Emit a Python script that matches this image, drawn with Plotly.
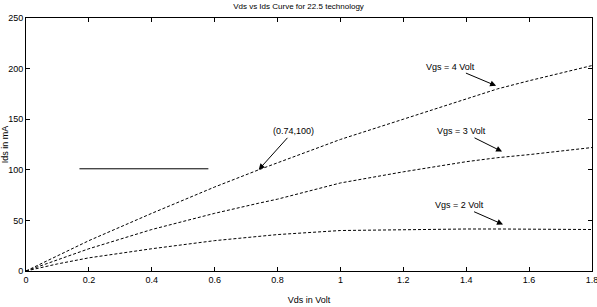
import plotly.graph_objects as go

vds = [0, 0.1, 0.2, 0.4, 0.6, 0.74, 0.8, 1.0, 1.2, 1.4, 1.5, 1.6, 1.8]
ids_vgs4 = [0, 15, 30, 57, 83, 100, 107, 130, 150, 170, 180, 188, 203]
ids_vgs3 = [0, 11, 22, 41, 57, 67, 71, 87, 98, 108, 112, 115, 122]
ids_vgs2 = [0, 7, 13, 22, 30, 34, 36, 40, 41, 41.5, 41.5, 41.5, 41]
marker_x = [0.17, 0.58]
marker_y = [101, 101]

x_ticks = [0, 0.2, 0.4, 0.6, 0.8, 1, 1.2, 1.4, 1.6, 1.8]
x_tick_text = ["0", "0.2", "0.4", "0.6", "0.8", "1", "1.2", "1.4", "1.6", "1.8"]
y_ticks = [0, 50, 100, 150, 200, 250]

font = dict(family="Liberation Sans", size=9, color="black")
line_style = dict(color="black", width=1, dash="3px,2px")

fig = go.Figure()
for ys in (ids_vgs4, ids_vgs3, ids_vgs2):
    fig.add_trace(go.Scatter(x=vds, y=ys, mode="lines", line=line_style,
                             showlegend=False, hoverinfo="skip"))
fig.add_trace(go.Scatter(x=marker_x, y=marker_y, mode="lines",
                         line=dict(color="black", width=1), showlegend=False,
                         hoverinfo="skip"))

annots = [
    ("(0.74,100)", 0.74, 100, 0.85, 138),
    ("Vgs = 4 Volt", 1.495, 183, 1.35, 202),
    ("Vgs = 3 Volt", 1.514, 118, 1.385, 138),
    ("Vgs = 2 Volt", 1.517, 46, 1.378, 65),
]
for txt, x, y, ax, ay in annots:
    fig.add_annotation(text=txt, x=x, y=y, ax=ax, ay=ay, axref="x", ayref="y",
                       xref="x", yref="y", showarrow=True, arrowhead=2,
                       arrowsize=1.2, arrowwidth=1, arrowcolor="black",
                       font=font)

fig.update_layout(
    width=597, height=307,
    margin=dict(l=26, r=5, t=18, b=36, autoexpand=False),
    paper_bgcolor="white", plot_bgcolor="white",
    font=font,
    title=dict(text="Vds vs Ids Curve for 22.5 technology", x=0.5, xanchor="center",
               y=0.99, yanchor="top", font=dict(family="Liberation Sans", size=8)),
    xaxis=dict(range=[0, 1.80001], tickvals=x_ticks, ticktext=x_tick_text,
               ticks="inside", ticklen=4, tickcolor="black", automargin=False,
               ticklabeloverflow="allow",
               showline=True, linecolor="black", linewidth=1, mirror="ticks",
               showgrid=False, zeroline=False,
               title=dict(text="Vds in Volt", font=font, standoff=12)),
    yaxis=dict(range=[0, 250], tickvals=y_ticks, automargin=False,
               ticks="inside", ticklen=4, tickcolor="black",
               showline=True, linecolor="black", linewidth=1, mirror="ticks",
               showgrid=False, zeroline=False,
               title=dict(text="Ids in mA", font=font, standoff=2)),
)

fig.write_html("out.html", config={"displayModeBar": False},
               post_script="document.body.style.margin='0';")
